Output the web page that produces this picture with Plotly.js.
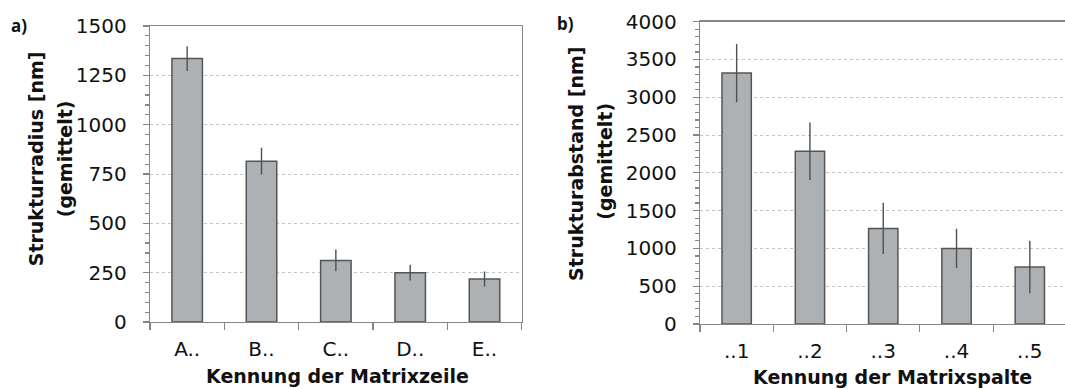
<!DOCTYPE html>
<html>
<head>
<meta charset="utf-8">
<script src="https://cdn.plot.ly/plotly-3.0.1.min.js"></script>
<style>
  html, body { margin: 0; padding: 0; background: #ffffff; }
  #chart { width: 1065px; height: 389px; }
</style>
</head>
<body>
<div id="chart"></div>
<script>
// ---- data ----
const rowCategories = ["A..", "B..", "C..", "D..", "E.."];
const radiusValues  = [1335, 815, 312, 250, 218];
const radiusErrors  = [63, 68, 55, 40, 38];

const colCategories = ["..1", "..2", "..3", "..4", "..5"];
const spacingValues = [3320, 2285, 1265, 1000, 755];
const spacingErrors = [385, 380, 340, 260, 347];

const panelLabels = ["a)", "b)"];
const yTitlesA = ["Strukturradius [nm]", "(gemittelt)"];
const yTitlesB = ["Strukturabstand [nm]", "(gemittelt)"];
const xTitleA = "Kennung der Matrixzeile";
const xTitleB = "Kennung der Matrixspalte";

// ---- styling ----
const W = 1065, H = 389;
const barFill = "#adb1b4";
const barLine = "#555555";
const axisCol = "#868686";
const gridCol = "#c4c4c4";
const tickFont = { family: "DejaVu Sans", size: 20, color: "#111111" };
const titleFont = { family: "DejaVu Sans", size: 19, color: "#111111", weight: "bold" };
const panelFont = { family: "Noto Sans", size: 17, color: "#111111", weight: "bold" };

function px(x) { return x / W; }
function py(y) { return 1 - y / H; }

const traceA = {
  type: "bar", x: rowCategories, y: radiusValues, xaxis: "x", yaxis: "y",
  width: 0.41,
  marker: { color: barFill, line: { color: barLine, width: 1.5 } },
  error_y: { type: "data", array: radiusErrors, visible: true, color: "#505050", thickness: 1.4, width: 0 },
  hoverinfo: "skip"
};
const traceB = {
  type: "bar", x: colCategories, y: spacingValues, xaxis: "x2", yaxis: "y2",
  width: 0.40,
  marker: { color: barFill, line: { color: barLine, width: 1.5 } },
  error_y: { type: "data", array: spacingErrors, visible: true, color: "#505050", thickness: 1.4, width: 0 },
  hoverinfo: "skip"
};

const xCommon = {
  type: "category",
  showline: true, linecolor: axisCol, linewidth: 1.3,
  ticks: "outside", tickson: "boundaries", ticklen: 7, tickcolor: axisCol, tickwidth: 1.2,
  tickfont: tickFont, ticklabelstandoff: 9,
  showgrid: false, zeroline: false, fixedrange: true
};
const yCommon = {
  showline: true, linecolor: axisCol, linewidth: 1.3,
  ticks: "outside", ticklen: 6, tickcolor: axisCol, tickwidth: 1.2,
  tickfont: tickFont, ticklabelstandoff: 12,
  showgrid: true, gridcolor: gridCol, griddash: "dot", gridwidth: 1,
  zeroline: false, fixedrange: true
};

const layout = {
  width: W, height: H,
  margin: { l: 0, r: 0, t: 0, b: 0, autoexpand: false },
  paper_bgcolor: "#ffffff", plot_bgcolor: "#ffffff",
  showlegend: false,
  xaxis: Object.assign({}, xCommon, {
    domain: [px(150), px(521.7)], range: [-0.5, 4.5], anchor: "y", mirror: true
  }),
  yaxis: Object.assign({}, yCommon, {
    domain: [py(322), py(26)], range: [0, 1500], dtick: 250, anchor: "x", mirror: true,
    minor: { dtick: 50, ticks: "outside", ticklen: 4, tickcolor: axisCol, showgrid: false }
  }),
  xaxis2: Object.assign({}, xCommon, {
    domain: [px(700), 1], range: [-0.5, 4.48], anchor: "y2", mirror: true
  }),
  yaxis2: Object.assign({}, yCommon, {
    domain: [py(324), py(21.7)], range: [0, 4000], dtick: 500, anchor: "x2", mirror: false,
    minor: { dtick: 100, ticks: "outside", ticklen: 4, tickcolor: axisCol, showgrid: false }
  }),
  annotations: [
    { text: panelLabels[0], xref: "paper", yref: "paper", x: px(19), y: py(26), xanchor: "center", yanchor: "middle",
      showarrow: false, font: panelFont },
    { text: panelLabels[1], xref: "paper", yref: "paper", x: px(565), y: py(23), xanchor: "center", yanchor: "middle",
      showarrow: false, font: panelFont },
    { text: yTitlesA[0], xref: "paper", yref: "paper", x: px(35.8), y: py(158.5), xanchor: "center", yanchor: "middle",
      textangle: -90, showarrow: false, font: titleFont },
    { text: yTitlesA[1], xref: "paper", yref: "paper", x: px(64.8), y: py(158.5), xanchor: "center", yanchor: "middle",
      textangle: -90, showarrow: false, font: titleFont },
    { text: yTitlesB[0], xref: "paper", yref: "paper", x: px(575.4), y: py(163.5), xanchor: "center", yanchor: "middle",
      textangle: -90, showarrow: false, font: titleFont },
    { text: yTitlesB[1], xref: "paper", yref: "paper", x: px(605), y: py(161.7), xanchor: "center", yanchor: "middle",
      textangle: -90, showarrow: false, font: titleFont },
    { text: xTitleA, xref: "paper", yref: "paper", x: px(337.5), y: py(376), xanchor: "center", yanchor: "middle",
      showarrow: false, font: titleFont },
    { text: xTitleB, xref: "paper", yref: "paper", x: px(892.5), y: py(377), xanchor: "center", yanchor: "middle",
      showarrow: false, font: titleFont }
  ]
};

Plotly.newPlot("chart", [traceA, traceB], layout, { staticPlot: true, displayModeBar: false });
</script>
</body>
</html>
